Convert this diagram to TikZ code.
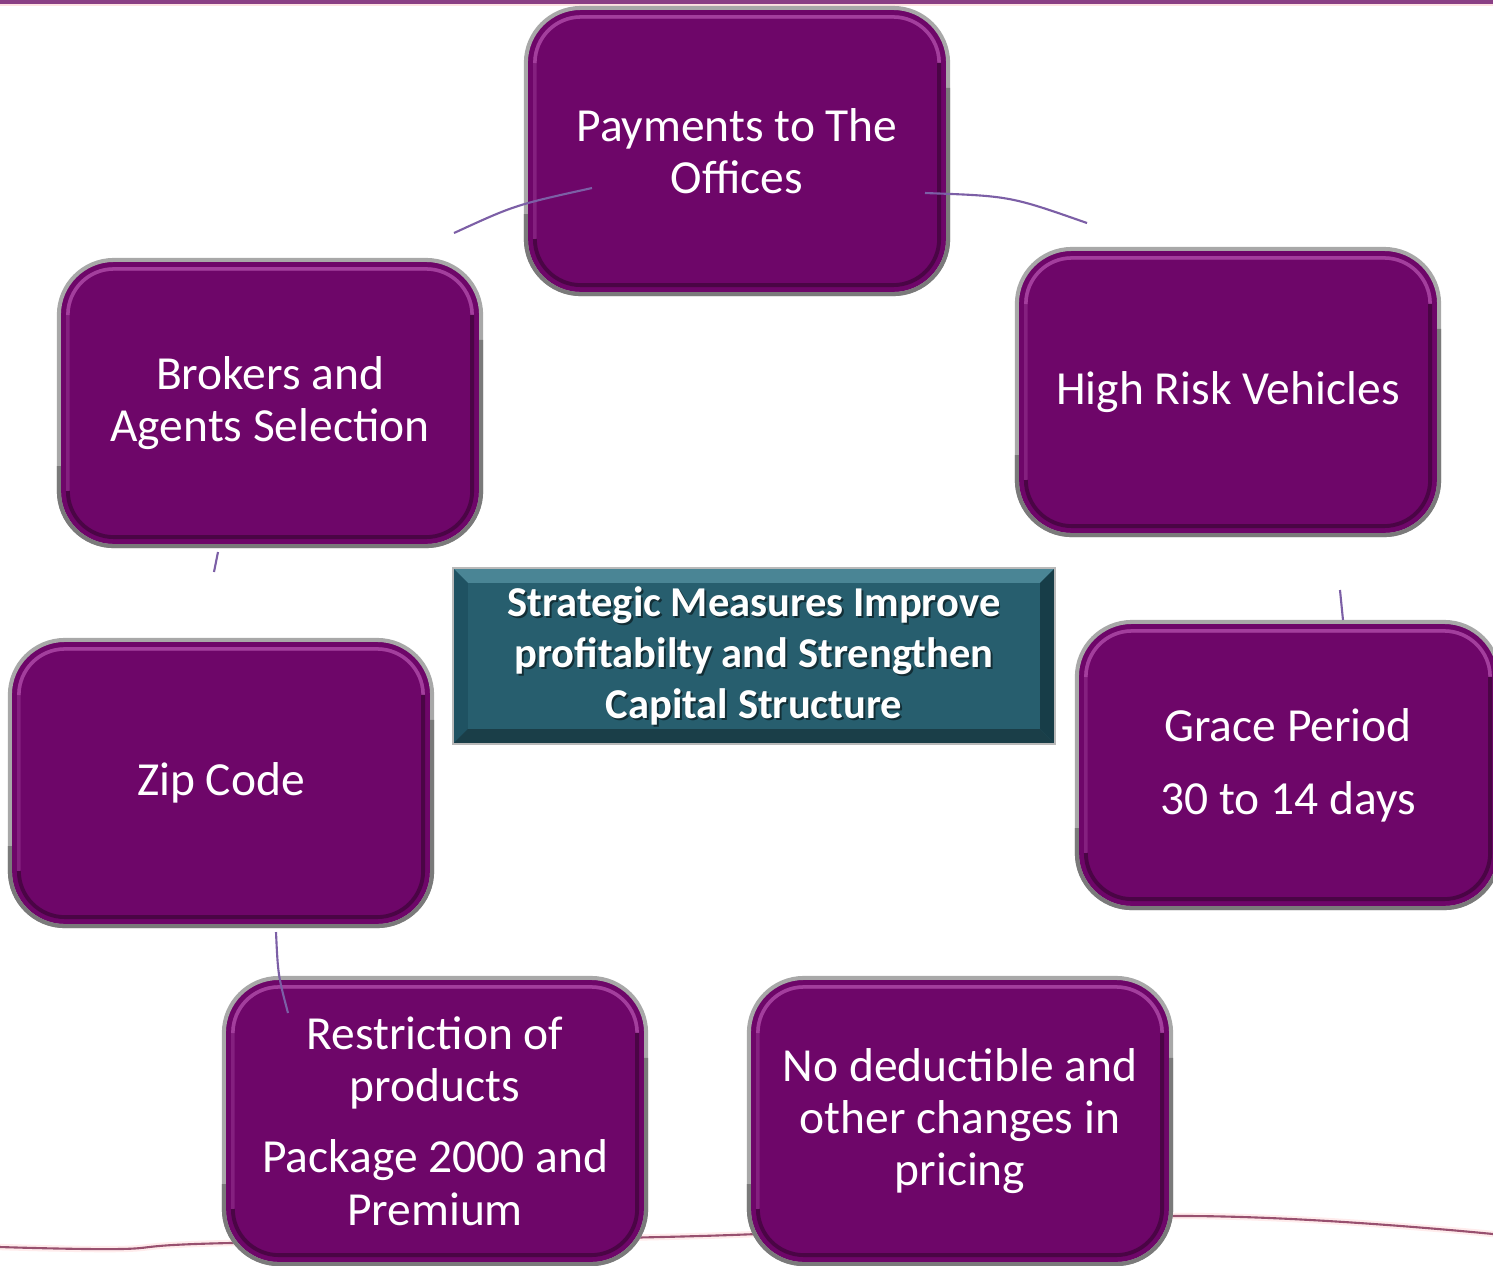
\documentclass[tikz,border=0pt]{standalone}
\usepackage{fontspec}
\setmainfont{Carlito}
\usetikzlibrary{calc}
\definecolor{boxpurple}{HTML}{6E0669}
\definecolor{boxborder}{HTML}{A8A8A8}
\definecolor{boxborderdk}{HTML}{7A7A7A}
\definecolor{boxhi}{HTML}{A33E9D}
\definecolor{boxmid}{HTML}{84207F}
\definecolor{boxlo}{HTML}{4A0545}
\definecolor{hubteal}{HTML}{275E6E}
\definecolor{hubtop}{HTML}{4A8595}
\definecolor{hubleft}{HTML}{1F5262}
\definecolor{hubright}{HTML}{173D48}
\definecolor{hubbottom}{HTML}{1A3E48}
\definecolor{linkcol}{HTML}{7C5FA6}
\definecolor{topband}{HTML}{8A3F85}
\definecolor{wavecol}{HTML}{98506F}
\begin{document}
\begin{tikzpicture}[x=0.01cm,y=-0.01cm,
  card/.style={draw=boxborder, line width=1.15pt, fill=boxpurple, rounded corners=0.55cm,
    minimum width=4.22cm, minimum height=2.86cm, text=white, align=center,
    font=\fontsize{13.5}{14.8}\selectfont, inner sep=0pt, outer sep=0pt},
  cardhi/.style={draw=boxhi, line width=1pt, rounded corners=0.46cm},
  cardmid/.style={draw=boxmid, line width=1pt, rounded corners=0.46cm},
  cardlo/.style={draw=boxlo, line width=1.1pt, rounded corners=0.46cm},
  carddk/.style={draw=boxborderdk, line width=1.15pt, rounded corners=0.55cm},
  hub/.style={fill=hubteal, draw=gray!55, line width=0.5pt, minimum width=6.02cm, minimum height=1.76cm, inner sep=0pt, outer sep=0pt},
  hubtext/.style={text=white, align=center, font=\bfseries\fontsize{12.1}{14.5}\selectfont, inner sep=0pt},
  hubshadow/.style={text=black, opacity=0.5, align=center, font=\bfseries\fontsize{12.1}{14.5}\selectfont, inner sep=0pt},
  link/.style={draw=linkcol, line width=0.6pt}]
\useasboundingbox (0,0) rectangle (1493,1265);
\clip (0,0) rectangle (1493,1265);
\fill[white] (0,0) rectangle (1493,1265);
% slide decoration
\fill[topband] (0,0) rectangle (1493,3.5);
\fill[pink!45] (0,3.5) rectangle (1493,6);
\draw[pink!30, line width=1.8pt] plot[smooth, tension=0.6] coordinates {(0,1247) (120,1249) (230,1243) (700,1236) (1180,1216) (1493,1234)};
\draw[wavecol, line width=0.6pt] plot[smooth, tension=0.6] coordinates {(0,1247) (120,1249) (230,1243) (700,1236) (1180,1216) (1493,1234)};
% cards
\node[card] (pay) at (737,151) {Payments to The\\Offices};
\node[card] (risk) at (1228,392) {High Risk Vehicles};
\node[card] (grace) at (1288,765) {Grace Period\\[6pt]30 to 14 days};
\node[card] (ded) at (960,1121) {No deductible and\\other changes in\\pricing};
\node[card] (restr) at (435,1121) {Restriction of\\products\\[5.5pt]Package 2000 and\\Premium};
\node[card] (zip) at (221,783) {Zip Code};
\node[card] (brok) at (270,403) {Brokers and\\Agents Selection};
\foreach \n in {pay,risk,grace,ded,restr,zip,brok} {
  \draw[carddk] ([shift={(0,80)}]\n.north east) -- (\n.south east) -- (\n.south west) -- ([shift={(0,-80)}]\n.south west);
  \draw[cardmid] ([shift={(9,-55)}]\n.south west) -- ([shift={(9,9)}]\n.north west) -- ([shift={(-9,9)}]\n.north east) -- ([shift={(-9,55)}]\n.north east);
  \draw[cardhi] ([shift={(9,55)}]\n.north west) -- ([shift={(9,9)}]\n.north west) -- ([shift={(-9,9)}]\n.north east) -- ([shift={(-9,55)}]\n.north east);
  \draw[cardlo] ([shift={(-9,55)}]\n.north east) -- ([shift={(-9,-9)}]\n.south east) -- ([shift={(9,-9)}]\n.south west) -- ([shift={(9,-55)}]\n.south west);
}
% centre box
\node[hub] (hub) at (754,656) {};
\fill[hubtop] (hub.north west) -- (hub.north east) -- ([shift={(-15,15)}]hub.north east) -- ([shift={(15,15)}]hub.north west) -- cycle;
\fill[hubleft] (hub.north west) -- ([shift={(15,15)}]hub.north west) -- ([shift={(15,-15)}]hub.south west) -- (hub.south west) -- cycle;
\fill[hubright] (hub.north east) -- (hub.south east) -- ([shift={(-15,-15)}]hub.south east) -- ([shift={(-15,15)}]hub.north east) -- cycle;
\fill[hubbottom] (hub.south west) -- ([shift={(15,-15)}]hub.south west) -- ([shift={(-15,-15)}]hub.south east) -- (hub.south east) -- cycle;
\draw[gray!55, line width=0.5pt] (hub.north west) rectangle (hub.south east);
\node[hubshadow] (hubsh) at ([shift={(2,2)}]hub.center) {Strategic Measures Improve\\profitabilty and Strengthen\\Capital Structure};
\node[hubtext] (hubtx) at (hub.center) {Strategic Measures Improve\\profitabilty and Strengthen\\Capital Structure};
% connectors (visible parts of the cycle arcs)
\coordinate (l1a) at (454,233); \coordinate (l1b) at (592,188);
\coordinate (l2a) at (925,193); \coordinate (l2b) at (1087,223);
\coordinate (l3a) at (1340,590); \coordinate (l3b) at (1343,620);
\coordinate (l4a) at (218,552); \coordinate (l4b) at (214,572);
\coordinate (l5a) at (276,932); \coordinate (l5b) at (288,1013);
\draw[link] (l1a) .. controls (515,205) .. (l1b);
\draw[link] (l2a) .. controls (1010,196) .. (l2b);
\draw[link] (l3a) -- (l3b);
\draw[link] (l4a) -- (l4b);
\draw[link] (l5a) .. controls (278,975) .. (l5b);
\end{tikzpicture}
\end{document}
